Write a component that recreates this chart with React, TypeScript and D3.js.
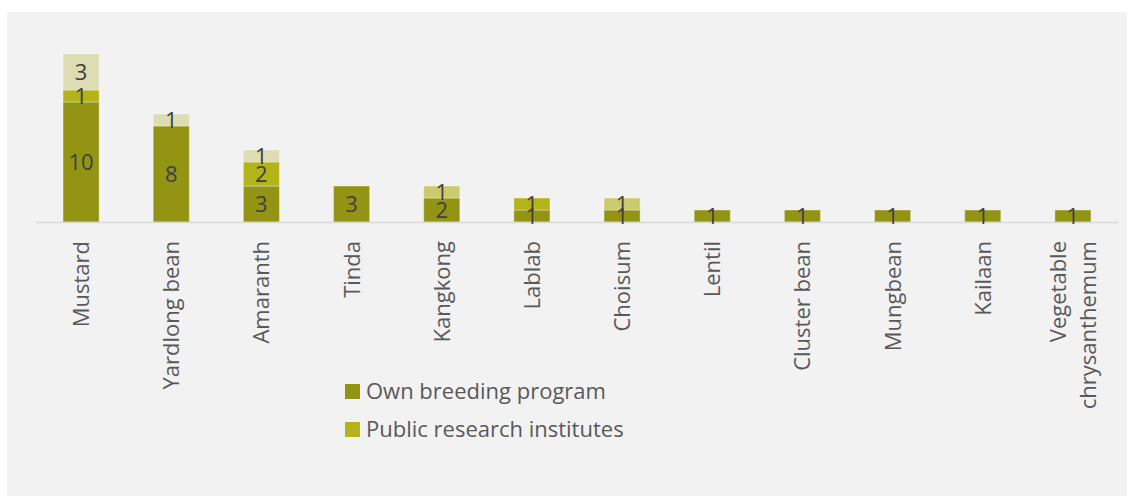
import React from "react";
import * as d3 from "d3";

const categories = [
  "Mustard",
  "Yardlong bean",
  "Amaranth",
  "Tinda",
  "Kangkong",
  "Lablab",
  "Choisum",
  "Lentil",
  "Cluster bean",
  "Mungbean",
  "Kailaan",
  "Vegetable chrysanthemum",
];

const ownBreeding = [10, 8, 3, 3, 2, 1, 1, 1, 1, 1, 1, 1];
const publicResearch = [1, 0, 2, 0, 0, 1, 0, 0, 0, 0, 0, 0];
const otherSourceA = [3, 1, 1, 0, 0, 0, 0, 0, 0, 0, 0, 0];
const otherSourceB = [0, 0, 0, 0, 1, 0, 1, 0, 0, 0, 0, 0];

const seriesKeys = ["own", "public", "otherA", "otherB"];
const seriesNames = ["Own breeding program", "Public research institutes", "Other A", "Other B"];
const seriesColors = ["#949414", "#b3b31a", "#dedcb2", "#cbca6e"];
const legendCount = 2;

const W = 1134;
const H = 496;

export default function App() {
  const rows = categories.map((c, i) => ({
    cat: c,
    own: ownBreeding[i],
    public: publicResearch[i],
    otherA: otherSourceA[i],
    otherB: otherSourceB[i],
  }));

  const x = d3
    .scaleBand<string>()
    .domain(categories)
    .range([36, 1118])
    .paddingInner(0.6)
    .paddingOuter(0.3);

  const y = d3.scaleLinear().domain([0, 14]).range([222, 54]);

  const stacked = d3.stack<any>().keys(seriesKeys)(rows);

  const font = "'Segoe UI', 'Open Sans', sans-serif";

  return (
    <svg
      width={W}
      height={H}
      style={{ position: "absolute", left: 0, top: 0, display: "block" }}
    >
      <rect x={0} y={0} width={W} height={H} fill="#ffffff" />
      <rect x={7} y={12} width={1120} height={H - 12} fill="#f2f2f2" />

      {stacked.map((s, si) => (
        <g key={s.key}>
          {s.map((d, i) => {
            const v = d[1] - d[0];
            if (v <= 0) return null;
            return (
              <rect
                key={i}
                x={x(categories[i])!}
                y={y(d[1])}
                width={x.bandwidth()}
                height={y(d[0]) - y(d[1])}
                fill={seriesColors[si]}
                stroke="#ffffff"
                strokeOpacity={0.35}
                strokeWidth={1}
              />
            );
          })}
        </g>
      ))}

      <line x1={36} x2={1118} y1={222.5} y2={222.5} stroke="#d9d9d9" strokeWidth={1.5} />

      {stacked.map((s, si) => (
        <g key={"l" + s.key}>
          {s.map((d, i) => {
            const v = d[1] - d[0];
            if (v <= 0) return null;
            return (
              <text
                key={i}
                x={x(categories[i])! + x.bandwidth() / 2}
                y={(y(d[0]) + y(d[1])) / 2}
                dy="0.36em"
                textAnchor="middle"
                fontFamily={font}
                fontSize={22}
                fill="#404040"
              >
                {v}
              </text>
            );
          })}
        </g>
      ))}

      {categories.map((c) => {
        const cx = x(c)! + x.bandwidth() / 2;
        const words = c === "Vegetable chrysanthemum" ? ["Vegetable", "chrysanthemum"] : [c];
        const lh = 30;
        return (
          <text
            key={c}
            transform={`translate(${cx},241) rotate(-90)`}
            textAnchor="end"
            fontFamily={font}
            fontSize={22}
            fill="#595959"
          >
            {words.map((w, k) => (
              <tspan key={k} x={0} y={(k - (words.length - 1) / 2) * lh} dy="0.36em">
                {w}
              </tspan>
            ))}
          </text>
        );
      })}

      {seriesNames.slice(0, legendCount).map((n, i) => (
        <g key={n} transform={`translate(345,${384 + i * 38})`}>
          <rect x={0} y={0} width={15} height={15} fill={seriesColors[i]} />
          <text x={21} y={7.5} dy="0.36em" fontFamily={font} fontSize={22} fill="#595959">
            {n}
          </text>
        </g>
      ))}
    </svg>
  );
}
